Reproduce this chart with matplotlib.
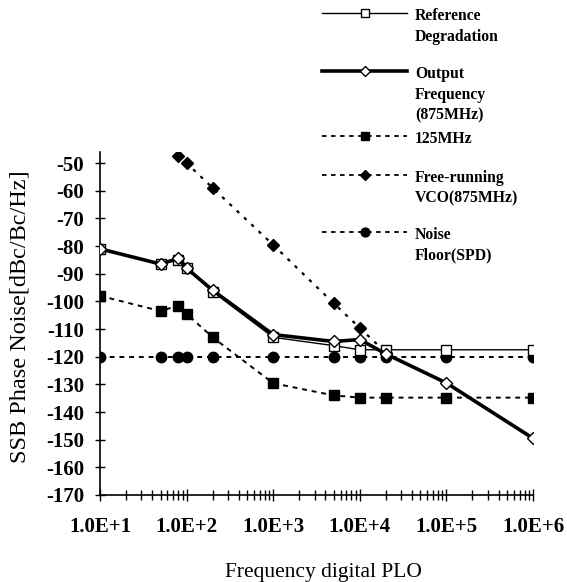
import matplotlib
matplotlib.use("Agg")
import matplotlib.pyplot as plt
from matplotlib.lines import Line2D
from matplotlib.ticker import LogLocator, FixedLocator, NullFormatter

# Offset frequencies (Hz)
freq = [10, 50, 80, 100, 200, 1e3, 5e3, 1e4, 2e4, 1e5, 1e6]
freq_vco = [80, 100, 200, 1e3, 5e3, 1e4, 2e4]

# SSB phase noise (dBc/Hz)
ref_degradation = [-81, -86.5, -85, -88, -96.5, -113, -116, -117.5, -117.5, -117.5, -117.5]
output_875 = [-81, -86.5, -84.5, -88, -96, -112, -114.5, -113.8, -119, -129.5, -149.5]
pll_125 = [-98, -103.5, -101.5, -104.5, -113, -129.6, -134, -134.8, -134.8, -134.8, -134.8]
vco_free = [-47.5, -50, -59, -79.6, -100.7, -109.6, -118.5]
noise_floor = [-120, -120, -120, -120, -120, -120, -120, -120, -120, -120, -120]

y_ticks = list(range(-170, -40, 10))
x_ticks = [1e1, 1e2, 1e3, 1e4, 1e5, 1e6]
x_ticklabels = ["1.0E+1", "1.0E+2", "1.0E+3", "1.0E+4", "1.0E+5", "1.0E+6"]

legend_labels = [
    "Reference\nDegradation",
    "Output\nFrequency\n(875MHz)",
    "125MHz",
    "Free-running\nVCO(875MHz)",
    "Noise\nFloor(SPD)",
]

serif = "Liberation Serif"

W, H = 567, 582
fig = plt.figure(figsize=(W / 100, H / 100), dpi=100)
ax = fig.add_axes([100 / W, 1 - 495 / H, (533 - 100) / W, (495 - 152) / H])

dash = (0, (2.5, 2.5))
styles = [
    dict(color="black", lw=1.0, ls="-", marker="s", ms=7.5, mfc="white", mec="black", mew=1.0),
    dict(color="black", lw=2.6, ls="-", marker="D", ms=6.5, mfc="white", mec="black", mew=1.0),
    dict(color="black", lw=1.4, ls=dash, marker="s", ms=7.5, mfc="black", mec="black"),
    dict(color="black", lw=1.6, ls=(0, (1.5, 3)), marker="D", ms=6, mfc="black", mec="black"),
    dict(color="black", lw=1.4, ls=dash, marker="o", ms=7.5, mfc="black", mec="black"),
]

ax.plot(freq, noise_floor, zorder=2, **styles[4])
ax.plot(freq, pll_125, zorder=2, **styles[2])
ax.plot(freq_vco, vco_free, zorder=3, **styles[3])
ax.plot(freq, ref_degradation, zorder=4, **styles[0])
ax.plot(freq, output_875, zorder=5, **styles[1])

ax.set_xscale("log")
ax.set_xlim(10, 1e6)
ax.set_ylim(-170, -46)

for side in ("top", "right"):
    ax.spines[side].set_visible(False)
ax.spines["left"].set_linewidth(1.2)
ax.spines["bottom"].set_linewidth(1.2)

ax.xaxis.set_major_locator(FixedLocator(x_ticks))
ax.set_xticklabels(x_ticklabels)
ax.xaxis.set_minor_locator(LogLocator(base=10, subs=range(2, 10), numticks=20))
ax.xaxis.set_minor_formatter(NullFormatter())
ax.set_yticks(y_ticks)
ax.set_yticklabels([str(v) for v in y_ticks])

ax.tick_params(axis="x", which="major", direction="inout", length=9, width=1.0, pad=11)
ax.tick_params(axis="x", which="minor", direction="inout", length=7, width=1.0)
ax.tick_params(axis="y", which="major", direction="inout", length=7, width=1.0, pad=8)

for lab in ax.get_xticklabels() + ax.get_yticklabels():
    lab.set_fontfamily(serif)
    lab.set_fontweight("bold")
    lab.set_fontsize(15)

ax.set_ylabel("SSB Phase Noise[dBc/Bc/Hz]", family=serif, fontsize=17.5)
ax.yaxis.set_label_coords((31 - 100) / 433, 0.52)
fig.text(323 / W, 1 - 572 / H, "Frequency digital PLO", family=serif, fontsize=15.5,
         ha="center", va="center")

# Legend, drawn in figure pixel coordinates
leg_rows = [13, 71, 136, 175, 232]
x0, x1, xt = 322, 407, 415
for label, y, st in zip(legend_labels, leg_rows, styles):
    yf = 1 - y / H
    line_kw = {k: v for k, v in st.items() if k not in ("marker", "ms", "mfc", "mec", "mew")}
    if line_kw["ls"] != "-":
        line_kw["ls"] = (0, (2.5, 2.5))
        line_kw["lw"] = 1.3
    fig.add_artist(Line2D([x0 / W, x1 / W], [yf, yf], transform=fig.transFigure, **line_kw))
    fig.add_artist(Line2D([(x0 + x1) / 2 / W], [yf], transform=fig.transFigure, ls="none",
                          marker=st["marker"], ms=st["ms"] * 0.85, mfc=st["mfc"], mec=st["mec"],
                          mew=st.get("mew", 1.0)))
    fig.text(xt / W, yf + 5 / H, label, family=serif, fontweight="bold", fontsize=11.3,
             ha="left", va="top", linespacing=1.4)

fig.savefig("out.png", dpi=100)
